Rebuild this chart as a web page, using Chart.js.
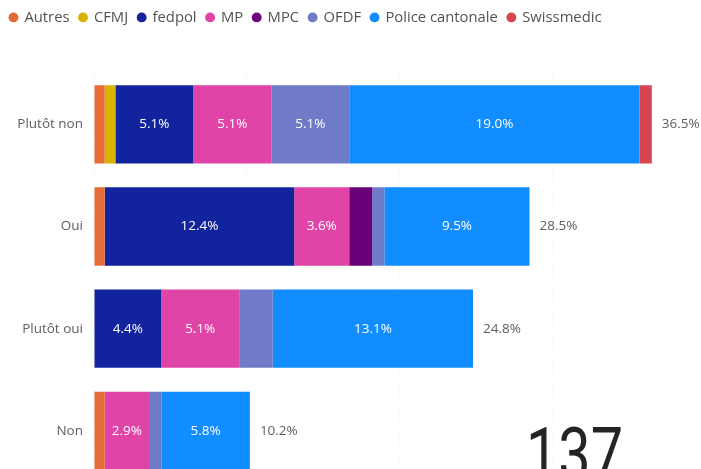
<!DOCTYPE html>
<html lang="fr">
<head>
<meta charset="utf-8">
<title>Répartition des réponses par service</title>
<script src="https://cdn.jsdelivr.net/npm/chart.js"></script>
<style>
    html, body { margin: 0; padding: 0; background: #fff; overflow: hidden; }
    #wrap { position: relative; width: 701px; height: 501px; }
    #total {
        position: absolute; left: 526px; top: 419px;
        font-family: Roboto, 'DejaVu Sans Condensed', sans-serif;
        font-size: 72px; line-height: 72px; color: #252423;
        transform: scaleX(0.80); transform-origin: left top;
    }
</style>
</head>
<body>
<div id="wrap">
    <canvas id="barChartServices"></canvas>
    <div id="total">137</div>
</div>
<script>
// Réponses (% du total) par service
var categories = ['Plutôt non', 'Oui', 'Plutôt oui', 'Non'];
var autres     = [0.7, 0.7, null, 0.7];
var cfmj       = [0.7, null, null, null];
var fedpol     = [5.1, 12.4, 4.4, null];
var mp         = [5.1, 3.6, 5.1, 2.9];
var mpc        = [null, 1.5, null, null];
var ofdf       = [5.1, 0.8, 2.2, 0.8];
var police     = [19.0, 9.5, 13.1, 5.8];
var swissmedic = [0.8, null, null, null];
var totals     = [36.5, 28.5, 24.8, 10.2];

Chart.defaults.font.family = "'Open Sans', sans-serif";
Chart.defaults.color = '#605E5C';

function pct(v) { return v.toFixed(1) + '%'; }

// espace entre la légende et les barres
var legendGap = {
    id: 'legendGap',
    beforeInit: function (chart) {
        var fit = chart.legend.fit;
        chart.legend.fit = function () {
            fit.bind(chart.legend)();
            this.height += 38.5;
        };
    }
};

// valeurs dans les segments + total en bout de barre
var barLabels = {
    id: 'barLabels',
    afterDatasetsDraw: function (chart) {
        var ctx = chart.ctx;
        ctx.save();
        ctx.font = "13.5px 'Open Sans', sans-serif";
        ctx.textBaseline = 'middle';
        ctx.textAlign = 'center';
        ctx.fillStyle = '#ffffff';
        chart.data.datasets.forEach(function (ds, di) {
            chart.getDatasetMeta(di).data.forEach(function (bar, i) {
                var v = ds.data[i];
                if (v == null || v < 2.5) return;
                var p = bar.getProps(['x', 'base', 'y'], true);
                ctx.fillText(pct(v), (p.x + p.base) / 2, p.y);
            });
        });
        var xs = chart.scales.x, ys = chart.scales.y;
        ctx.textAlign = 'left';
        ctx.fillStyle = '#605E5C';
        totals.forEach(function (t, i) {
            ctx.fillText(pct(t), xs.getPixelForValue(t) + 10, ys.getPixelForValue(i));
        });
        ctx.restore();
    }
};

var ctxBarEl = document.getElementById('barChartServices');
new Chart(ctxBarEl.getContext('2d'), {
    type: 'bar',
    data: {
        labels: categories,
        datasets: [
            { label: 'Autres', data: autres, backgroundColor: '#E66C37' },
            { label: 'CFMJ', data: cfmj, backgroundColor: '#D9B300' },
            { label: 'fedpol', data: fedpol, backgroundColor: '#12239E' },
            { label: 'MP', data: mp, backgroundColor: '#E044A7' },
            { label: 'MPC', data: mpc, backgroundColor: '#6B007B' },
            { label: 'OFDF', data: ofdf, backgroundColor: '#6F7BC7' },
            { label: 'Police cantonale', data: police, backgroundColor: '#118DFF' },
            { label: 'Swissmedic', data: swissmedic, backgroundColor: '#D64550' }
        ]
    },
    options: {
        indexAxis: 'y',
        responsive: true, maintainAspectRatio: false, animation: false,
        layout: { padding: { left: 0, right: 11, top: 0, bottom: 1 } },
        datasets: { bar: { categoryPercentage: 1, barPercentage: 0.767, borderWidth: 0 } },
        plugins: {
            legend: {
                position: 'top', align: 'start',
                labels: {
                    usePointStyle: true, pointStyle: 'circle', boxWidth: 7, boxHeight: 7,
                    padding: 10, color: '#55534f', font: { size: 14.8 }
                }
            },
            tooltip: { enabled: false }
        },
        scales: {
            x: {
                stacked: true, min: 0, max: 39,
                ticks: { display: false, stepSize: 10 },
                grid: {
                    // pas de ligne en bout d'axe
                    color: function (c) { return c.tick && c.tick.value % 10 === 0 ? '#e2e2e2' : 'rgba(0,0,0,0)'; },
                    drawTicks: false, lineWidth: 1
                },
                border: { display: false, dash: [1, 5] }
            },
            y: {
                stacked: true,
                afterFit: function (scale) { scale.width = 94; },
                ticks: { padding: 11, font: { size: 13.5 }, color: '#605E5C' },
                grid: { display: false, drawTicks: false },
                border: { display: false }
            }
        }
    },
    plugins: [legendGap, barLabels]
});
</script>
</body>
</html>
